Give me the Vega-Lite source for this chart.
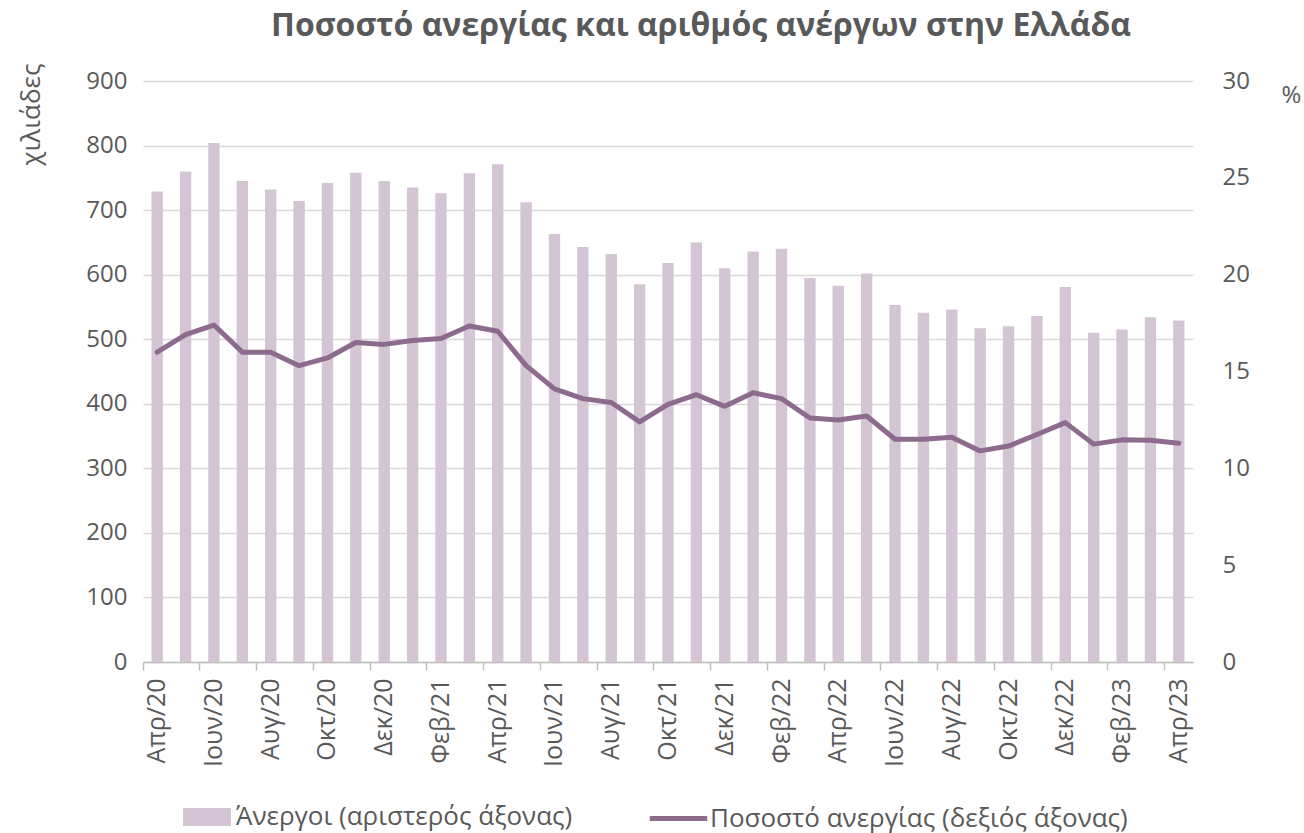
{
  "$schema": "https://vega.github.io/schema/vega-lite/v6.json",
  "width": 1050,
  "height": 581,
  "autosize": "none",
  "padding": {"left": 143, "top": 81, "right": 111, "bottom": 171},
  "background": "white",
  "title": {
    "text": "Ποσοστό ανεργίας και αριθμός ανέργων στην Ελλάδα",
    "fontSize": 32,
    "fontWeight": "bold",
    "font": "Open Sans",
    "color": "#595959",
    "anchor": "middle",
    "frame": "group",
    "dx": 33,
    "offset": 20
  },
  "data": {
    "values": [
      {"m": "Απρ/20", "u": 729, "r": 16.0},
      {"m": "Μαϊ/20", "u": 760, "r": 16.9},
      {"m": "Ιουν/20", "u": 804, "r": 17.4},
      {"m": "Ιουλ/20", "u": 745, "r": 16.0},
      {"m": "Αυγ/20", "u": 732, "r": 16.0},
      {"m": "Σεπ/20", "u": 714, "r": 15.3},
      {"m": "Οκτ/20", "u": 742, "r": 15.7},
      {"m": "Νοε/20", "u": 758, "r": 16.5},
      {"m": "Δεκ/20", "u": 745, "r": 16.4},
      {"m": "Ιαν/21", "u": 735, "r": 16.6},
      {"m": "Φεβ/21", "u": 726, "r": 16.7},
      {"m": "Μαρ/21", "u": 757, "r": 17.35},
      {"m": "Απρ/21", "u": 771, "r": 17.08},
      {"m": "Μαϊ/21", "u": 712, "r": 15.3},
      {"m": "Ιουν/21", "u": 663, "r": 14.1},
      {"m": "Ιουλ/21", "u": 643, "r": 13.6},
      {"m": "Αυγ/21", "u": 632, "r": 13.4},
      {"m": "Σεπ/21", "u": 585, "r": 12.4},
      {"m": "Οκτ/21", "u": 618, "r": 13.3},
      {"m": "Νοε/21", "u": 650, "r": 13.8},
      {"m": "Δεκ/21", "u": 610, "r": 13.2},
      {"m": "Ιαν/22", "u": 636, "r": 13.9},
      {"m": "Φεβ/22", "u": 640, "r": 13.6},
      {"m": "Μαρ/22", "u": 595, "r": 12.6},
      {"m": "Απρ/22", "u": 583, "r": 12.5},
      {"m": "Μαϊ/22", "u": 602, "r": 12.7},
      {"m": "Ιουν/22", "u": 553, "r": 11.5},
      {"m": "Ιουλ/22", "u": 541, "r": 11.5},
      {"m": "Αυγ/22", "u": 546, "r": 11.6},
      {"m": "Σεπ/22", "u": 517, "r": 10.9},
      {"m": "Οκτ/22", "u": 520, "r": 11.15},
      {"m": "Νοε/22", "u": 536, "r": 11.75},
      {"m": "Δεκ/22", "u": 581, "r": 12.36},
      {"m": "Ιαν/23", "u": 510, "r": 11.25},
      {"m": "Φεβ/23", "u": 515, "r": 11.47},
      {"m": "Μαρ/23", "u": 534, "r": 11.45},
      {"m": "Απρ/23", "u": 529, "r": 11.3}
    ]
  },
  "encoding": {
    "x": {
      "field": "m",
      "type": "nominal",
      "sort": null,
      "scale": {"paddingInner": 0, "paddingOuter": 0},
      "axis": {
        "title": null,
        "values": ["Απρ/20","Ιουν/20","Αυγ/20","Οκτ/20","Δεκ/20","Φεβ/21","Απρ/21","Ιουν/21","Αυγ/21","Οκτ/21","Δεκ/21","Φεβ/22","Απρ/22","Ιουν/22","Αυγ/22","Οκτ/22","Δεκ/22","Φεβ/23","Απρ/23"],
        "labelAngle": -90,
        "labelAlign": "right",
        "labelBaseline": "middle",
        "labelPadding": 8,
        "bandPosition": 0,
        "labelOffset": 0,
        "tickSize": 8,
        "tickColor": "#BFBFBF",
        "tickWidth": 1.5,
        "domainColor": "#BFBFBF",
        "domainWidth": 1.5,
        "grid": false,
        "labelFontSize": 25
      }
    }
  },
  "layer": [
    {
      "mark": {"type": "bar", "width": {"band": 0.4}},
      "encoding": {
        "y": {
          "field": "u",
          "type": "quantitative",
          "scale": {"domain": [0, 900], "nice": false},
          "axis": {
            "orient": "left",
            "values": [0,100,200,300,400,500,600,700,800,900],
            "title": "χιλιάδες",
            "titleAngle": -90,
            "titleAlign": "right",
            "titleBaseline": "middle",
            "titleX": -112,
            "titleY": -18,
            "titleFontWeight": "normal",
            "titleFontSize": 26,
            "grid": true,
            "gridColor": "#D9D9D9",
            "gridWidth": 1.5,
            "domain": false,
            "ticks": false,
            "labelPadding": 16,
            "labelFontSize": 24
          }
        },
        "color": {
          "datum": "Άνεργοι (αριστερός άξονας)",
          "scale": {"range": ["#D3C5D4"]},
          "legend": {
            "orient": "none",
            "legendX": 40,
            "legendY": 712,
            "title": null,
            "symbolType": "M-1,-0.375H1V0.375H-1Z",
            "symbolSize": 2304,
            "symbolStrokeWidth": 0,
            "labelFontSize": 26,
            "labelOffset": 5
          }
        }
      }
    },
    {
      "mark": {"type": "line", "strokeWidth": 5, "strokeJoin": "round", "strokeCap": "round"},
      "encoding": {
        "y": {
          "field": "r",
          "type": "quantitative",
          "scale": {"domain": [0, 30], "nice": false},
          "axis": {
            "orient": "right",
            "values": [0,5,10,15,20,25,30],
            "title": "%",
            "titleAngle": 0,
            "titleAlign": "center",
            "titleBaseline": "middle",
            "titleX": 98,
            "titleY": 14,
            "titleFontWeight": "normal",
            "titleFontSize": 24,
            "grid": false,
            "domain": false,
            "ticks": false,
            "labelPadding": 29,
            "labelFontSize": 24
          }
        },
        "stroke": {
          "datum": "Ποσοστό ανεργίας (δεξιός άξονας)",
          "scale": {"range": ["#8C6B8C"]},
          "legend": {
            "orient": "none",
            "legendX": 504,
            "legendY": 706,
            "title": null,
            "symbolType": "stroke",
            "symbolSize": 3300,
            "symbolStrokeWidth": 5,
            "labelFontSize": 26,
            "labelOffset": 0
          }
        }
      }
    }
  ],
  "resolve": {"scale": {"y": "independent"}},
  "config": {
    "font": "Open Sans",
    "view": {"stroke": null},
    "axis": {"labelColor": "#595959", "titleColor": "#595959", "labelFont": "Open Sans", "titleFont": "Open Sans"},
    "legend": {"labelColor": "#595959", "labelFont": "Open Sans", "labelLimit": 600}
  }
}
